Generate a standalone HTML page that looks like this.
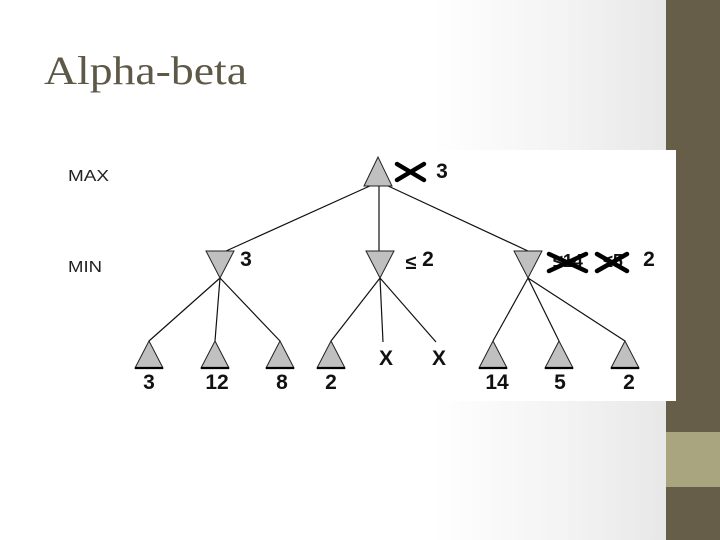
<!DOCTYPE html>
<html><head><meta charset="utf-8"><style>
html,body{margin:0;padding:0;width:720px;height:540px;overflow:hidden}
body{background:linear-gradient(to right,#ffffff 0%,#ffffff 60%,#f2f2f2 80%,#e8e8e8 92%)}
</style></head><body>
<svg width="720" height="540" xmlns="http://www.w3.org/2000/svg" style="position:absolute;left:0;top:0">
<rect x="666" y="0" width="54" height="540" fill="#675e4a"/>
<rect x="666" y="432" width="54" height="55" fill="#a8a57f"/>
<rect x="110" y="150" width="566" height="251" fill="#ffffff"/>
<text x="44" y="84" font-family="Liberation Serif, serif" font-size="40" fill="#5e5848" textLength="203" lengthAdjust="spacingAndGlyphs">Alpha-beta</text>
<g font-family="Liberation Sans, sans-serif" fill="#222">
<text x="68" y="181" font-size="16" textLength="41" lengthAdjust="spacingAndGlyphs">MAX</text>
<text x="68" y="272" font-size="16" textLength="34" lengthAdjust="spacingAndGlyphs">MIN</text>
</g>
<g stroke="#111" stroke-width="1.2" fill="none">
<line x1="372" y1="185" x2="226" y2="251"/>
<line x1="379" y1="185" x2="379" y2="251"/>
<line x1="386" y1="185" x2="528" y2="251"/>
<line x1="220" y1="278" x2="149" y2="341"/>
<line x1="220" y1="278" x2="215" y2="341"/>
<line x1="220" y1="278" x2="280" y2="341"/>
<line x1="380" y1="278" x2="331" y2="341"/>
<line x1="380" y1="278" x2="383" y2="342"/>
<line x1="380" y1="278" x2="436" y2="342"/>
<line x1="528" y1="278" x2="493" y2="341"/>
<line x1="528" y1="278" x2="559" y2="341"/>
<line x1="528" y1="278" x2="625" y2="341"/>
</g>
<g fill="#c0c0c0" stroke="#222" stroke-width="1">
<polygon points="378,157 364,186 392,186"/>
<polygon points="206,251 234,251 220,278"/>
<polygon points="366,251 394,251 380,278"/>
<polygon points="514,251 542,251 528,278"/>
<polygon points="149,341 135,368 163,368"/>
<polygon points="215,341 201,368 229,368"/>
<polygon points="280,341 266,368 294,368"/>
<polygon points="331,341 317,368 345,368"/>
<polygon points="493,341 479,368 507,368"/>
<polygon points="559,341 545,368 573,368"/>
<polygon points="625,341 611,368 639,368"/>
</g>
<g stroke="#000" stroke-width="2.2">
<line x1="135" y1="368" x2="163" y2="368"/><line x1="201" y1="368" x2="229" y2="368"/>
<line x1="266" y1="368" x2="294" y2="368"/><line x1="317" y1="368" x2="345" y2="368"/>
<line x1="479" y1="368" x2="507" y2="368"/><line x1="545" y1="368" x2="573" y2="368"/>
<line x1="611" y1="368" x2="639" y2="368"/>
</g>
<g font-family="Liberation Sans, sans-serif" font-weight="bold" font-size="21" fill="#111" text-anchor="middle">
<text x="149" y="389">3</text><text x="217" y="389">12</text><text x="282" y="389">8</text>
<text x="331" y="389">2</text><text x="497" y="389">14</text><text x="560" y="389">5</text>
<text x="629" y="389">2</text>
<text x="386" y="365">X</text><text x="439" y="365">X</text>
<text x="246" y="266">3</text>
<text x="442" y="178">3</text>
<text x="428" y="266">2</text>
<text x="649" y="266">2</text>
<text x="411" y="269" font-size="20">≤</text>
<text x="568" y="267" font-size="18">≤14</text>
<text x="613" y="267" font-size="18">≤5</text>
</g>
<g stroke="#000" stroke-width="4.5" stroke-linecap="round">
<line x1="397" y1="164" x2="424" y2="180"/><line x1="397" y1="180" x2="424" y2="164"/>
<line x1="549" y1="254" x2="586" y2="271"/><line x1="549" y1="271" x2="586" y2="254"/>
<line x1="597" y1="254" x2="627" y2="271"/><line x1="597" y1="271" x2="627" y2="254"/>
</g>
</svg>
</body></html>
